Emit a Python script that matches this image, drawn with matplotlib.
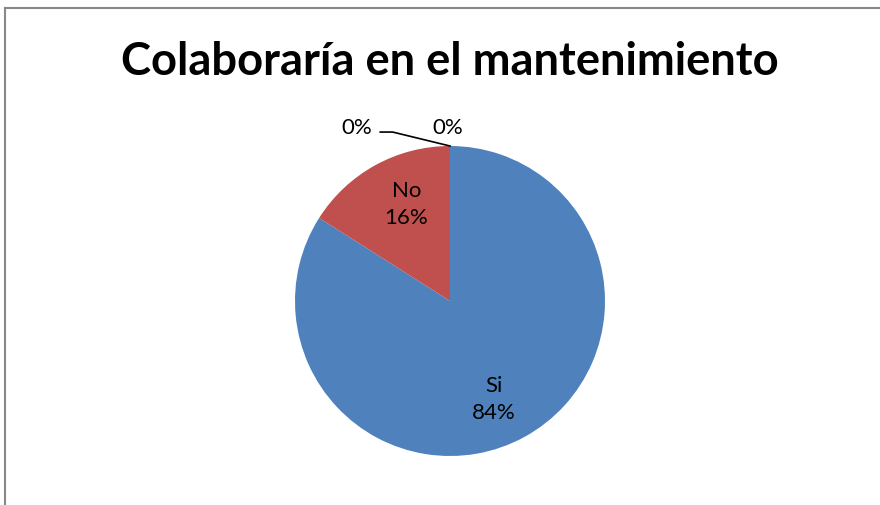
import matplotlib
matplotlib.use("Agg")
import matplotlib.pyplot as plt
import numpy as np

title = "Colaboraría en el mantenimiento"
categories = ["Si", "No", "", ""]
values = [84, 16, 0, 0]
colors = ["#4F81BD", "#C0504D", "#9BBB59", "#8064A2"]

W, H = 880, 506
cx, cy, R = 450, 302, 155  # pixel layout

plt.rcParams['font.family'] = ['Lato', 'DejaVu Sans']
fig = plt.figure(figsize=(W / 100, H / 100), dpi=100)
ax = fig.add_axes([0, 0, 1, 1])

wedges, _ = ax.pie(values, colors=colors, startangle=90, counterclock=False,
                   radius=1.0, wedgeprops=dict(linewidth=0))
ax.set_xlim(-cx / R, (W - cx) / R)
ax.set_ylim(-(H - cy) / R, cy / R)
ax.set_aspect('auto')
ax.axis('off')

fs = 16
total = sum(values)
for w, cat, v in zip(wedges, categories, values):
    pct = f"{v / total * 100:.0f}%"
    if v > 0:
        mid = np.deg2rad((w.theta1 + w.theta2) / 2)
        d = 0.69
        ax.text(d * np.cos(mid) * 0.85, d * np.sin(mid) * 1.04, f"{cat}\n{pct}",
                ha='center', va='center', fontsize=fs, linespacing=1.45, color='black')

# zero-value labels
zero_idx = [i for i, v in enumerate(values) if v == 0]
if len(zero_idx) >= 2:
    ax.text(-0.013, 1.123, f"{values[zero_idx[1]]:.0f}%", ha='center', va='center', fontsize=fs)
    ax.text(-0.6, 1.123, f"{values[zero_idx[0]]:.0f}%", ha='center', va='center', fontsize=fs)
    ax.plot([-0.45, -0.37, 0.0], [1.09, 1.09, 1.0], color='black', lw=1.2)

fig.text(450 / W, 1 - 62 / H, title, ha='center', va='center', fontsize=32.7, fontweight='bold')

# frame lines (top and left)
fig.add_artist(plt.Line2D([5 / W, 1], [1 - 9 / H, 1 - 9 / H], color='#888888', lw=1.5))
fig.add_artist(plt.Line2D([5 / W, 5 / W], [0, 1 - 9 / H], color='#888888', lw=1.5))

fig.savefig("out.png", dpi=100)
